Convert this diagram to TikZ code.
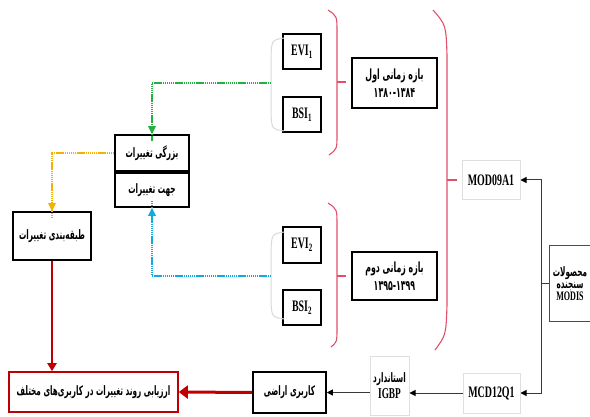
\documentclass[tikz,border=0pt]{standalone}
\usepackage{fontspec}
\setmainfont{Liberation Serif}
\newfontfamily\fa[Script=Arabic,FakeStretch=0.56]{DejaVu Sans}
\newfontfamily\latc[FakeStretch=0.62]{Liberation Serif}
\TeXXeTstate=1
\usetikzlibrary{arrows.meta,calc}
\definecolor{pinkred}{HTML}{E0506A}
\definecolor{dred}{HTML}{C00000}
\definecolor{ggreen}{HTML}{22B040}
\definecolor{yyel}{HTML}{F5B000}
\definecolor{ccyan}{HTML}{10AAE0}
\tikzset{
  blackbox/.style={draw=black, line width=1.6pt, fill=white, inner sep=0pt, align=center},
  lightbox/.style={draw=gray!25, line width=1pt, fill=white, inner sep=0pt, align=center},
  modisbox/.style={draw=gray!60!black, line width=1pt, fill=white, inner sep=0pt, align=center},
  redbox/.style={draw=dred, line width=1.6pt, fill=white, inner sep=0pt, align=center},
  lat/.style={font=\latc\bfseries\fontsize{16}{17}\selectfont},
  per/.style={font=\fa\bfseries\fontsize{13}{16}\selectfont},
  pinkbr/.style={draw=pinkred, line width=1.1pt},
  graybr/.style={draw=gray!30, line width=1pt},
  dots/.style={line width=2pt, dash pattern=on 1.4pt off 0.7pt},
  blk/.style={draw=gray!45!black, line width=1pt, -{Triangle[length=6pt,width=6pt,color=black]}},
}
\begin{document}
\begin{tikzpicture}[x=1pt,y=-1pt]
\useasboundingbox (0,0) rectangle (590,417);
\clip (0,0) rectangle (590,417);

% EVI / BSI boxes
\node[blackbox, lat, minimum width=38pt, minimum height=35pt] (evi1) at (302,51.5) {EVI\textsubscript{1}};
\node[blackbox, lat, minimum width=38pt, minimum height=35pt] (bsi1) at (302,114.5) {BSI\textsubscript{1}};
\node[blackbox, lat, minimum width=38pt, minimum height=36pt] (evi2) at (302,245) {EVI\textsubscript{2}};
\node[blackbox, lat, minimum width=38pt, minimum height=35pt] (bsi2) at (302,307.5) {BSI\textsubscript{2}};

% period boxes
\node[blackbox, font=\fa\bfseries\fontsize{14}{18}\selectfont, minimum width=85pt, minimum height=50pt] (per1) at (394.5,83)
  {\beginR بازه زمانی اول\endR\\ ۱۳۸۰-۱۳۸۴};
\node[blackbox, font=\fa\bfseries\fontsize{14}{18}\selectfont, minimum width=85pt, minimum height=48pt] (per2) at (394.5,276)
  {\beginR بازه زمانی دوم\endR\\ ۱۳۹۵-۱۳۹۹};

% products
\node[lightbox, lat, minimum width=58pt, minimum height=39pt] (mod09) at (491,180) {MOD09A1};
\node[lightbox, lat, minimum width=57pt, minimum height=40pt] (mcd) at (491.5,393) {MCD12Q1};
\node[lightbox, minimum width=39pt, minimum height=59pt] (igbp) at (389.5,385.5)
  {{\fa\bfseries\fontsize{13}{16}\selectfont\beginR استاندارد\endR}\\[2pt]{\latc\bfseries\fontsize{15}{16}\selectfont IGBP}};
\node[modisbox, minimum width=48pt, minimum height=76pt] (modis) at (573,284) {};
\node[inner sep=0pt, align=center] (modist) at (570,284)
  {{\fa\bfseries\fontsize{13}{17}\selectfont\beginR محصولات\endR}\\{\fa\bfseries\fontsize{13}{17}\selectfont\beginR سنجنده\endR}\\{\latc\bfseries\fontsize{13}{15}\selectfont MODIS}};

% bottom row
\node[blackbox, per, minimum width=73pt, minimum height=41pt] (kar) at (289.5,392.5) {\beginR کاربری اراضی\endR};
\node[redbox, per, minimum width=169pt, minimum height=40pt] (eval) at (93.5,392) {\beginR ارزیابی روند تغییرات در کاربری‌های مختلف\endR};

% change boxes
\node[blackbox, per, minimum width=78pt, minimum height=48pt] (tab) at (52,236) {\beginR طبقه‌بندی تغییرات\endR};
\node[blackbox, per, minimum width=74pt, minimum height=36pt] (boz) at (152,153) {\beginR بزرگی تغییرات\endR};
\node[blackbox, per, minimum width=74pt, minimum height=34pt] (jah) at (152,190) {\beginR جهت تغییرات\endR};

% gray brackets
\draw[graybr] (284,38) .. controls (272,40) .. (271,55) -- (271,115) .. controls (272,129) .. (284,131);
\coordinate (gb1) at (271,83);
\draw[graybr] (284,232) .. controls (272,234) .. (271,249) -- (271,303) .. controls (272,317) .. (284,319);
\coordinate (gb2) at (271,276);

% pink brackets
\draw[pinkbr] (328,10) .. controls (337,16) .. (337,32) -- (337,135) .. controls (337,149) .. (329,155);
\draw[pinkbr] (337,82) -- (346,82);
\draw[pinkbr] (328,203) .. controls (337,209) .. (337,225) -- (337,328) .. controls (337,342) .. (331,347);
\draw[pinkbr] (337,276) -- (346,276);
\draw[pinkbr] (433,10) .. controls (446,25) .. (447,55) -- (447,305) .. controls (446,335) .. (435,350);
\draw[pinkbr] (447,180) -- (457,180);

% dotted connectors
\draw[dots, ggreen] (gb1) -| ([yshift=-7pt]boz.north);
\fill[ggreen] (boz.north) -- ++(-4,-8) -- ++(8,0) -- cycle;
\draw[dots, ccyan] (gb2) -| ([yshift=7pt]jah.south);
\fill[ccyan] (jah.south) -- ++(-4,8) -- ++(8,0) -- cycle;
\draw[dots, yyel] (boz.west) -| ([yshift=-7pt]tab.north);
\fill[yyel] (tab.north) -- ++(-4,-8) -- ++(8,0) -- cycle;

% MODIS connectors
\coordinate (mj) at ($(modis.west)+(-7,0)$);
\draw[gray!45!black, line width=1pt] (modis.west) -- (mj);
\draw[blk] (mj) |- (mod09.east);
\draw[blk] (mj) |- (mcd.east);
\draw[blk] (mcd.west) -- (igbp.east |- mcd.west);
\draw[blk] (igbp.west |- kar.east) -- (kar.east);

% red arrows
\draw[dred, line width=3pt, -{Triangle[length=9pt,width=13pt]}] (kar.west) -- (eval.east);
\draw[dred, line width=2pt, -{Triangle[length=8pt,width=9pt]}] (tab.south) -- (tab.south |- eval.north);
\end{tikzpicture}
\end{document}
